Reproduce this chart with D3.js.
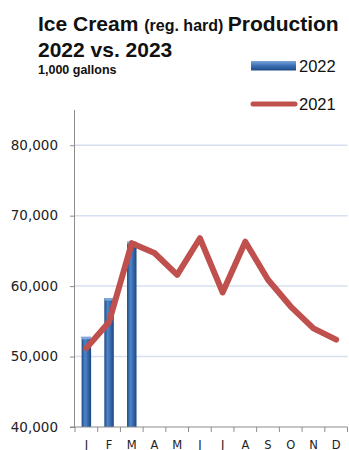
<!DOCTYPE html>
<html><head><meta charset="utf-8">
<script src="https://cdn.jsdelivr.net/npm/d3@7"></script>
<style>body{margin:0;background:#fff}svg{display:block}</style>
</head><body>
<script>
const months = ["J","F","M","A","M","J","J","A","S","O","N","D"];
const values2022 = [52800, 58300, 66300];
const values2021 = [51200, 54900, 66100, 64700, 61600, 66800, 59100, 66300, 60900, 57100, 54000, 52400];
const yTicks = [40000, 50000, 60000, 70000, 80000];

const W = 349, H = 450;
const svg = d3.select("body").append("svg").attr("width", W).attr("height", H);
const defs = svg.append("defs");
const g1 = defs.append("linearGradient").attr("id","barGrad").attr("x1","0").attr("x2","1").attr("y1","0").attr("y2","0");
[["0%","#1d4a86"],["35%","#4f86c8"],["55%","#3f74b8"],["100%","#1b4680"]].forEach(([o,c])=>g1.append("stop").attr("offset",o).attr("stop-color",c));
const g2 = defs.append("linearGradient").attr("id","legGrad").attr("x1","0").attr("x2","0").attr("y1","0").attr("y2","1");
[["0%","#7aa6da"],["45%","#3f74b8"],["100%","#1d4a86"]].forEach(([o,c])=>g2.append("stop").attr("offset",o).attr("stop-color",c));

const x0 = 75, x1 = 347.5, yTop = 110, yBot = 427;
const x = d3.scaleBand().domain(d3.range(12)).range([x0, x1]).padding(0);
const y = d3.scaleLinear().domain([40000, 85000]).range([yBot, yTop]);

// gridlines
svg.append("g").selectAll("line").data(yTicks.slice(1)).join("line")
  .attr("x1", x0).attr("x2", x1).attr("y1", d=>y(d)).attr("y2", d=>y(d))
  .attr("stroke", "#d6e0f0").attr("stroke-width", 1.5);

// y axis
const yAxis = svg.append("g").attr("transform", `translate(${x0},0)`)
  .call(d3.axisLeft(y).tickValues(yTicks).tickSize(5).tickPadding(12).tickFormat(d3.format(",")));
yAxis.select(".domain").attr("stroke","#8c8c8c").attr("d", `M-0.5,${yTop}V${yBot}`);
yAxis.selectAll(".tick line").attr("stroke","#8c8c8c");
yAxis.selectAll("text").attr("font-family","DejaVu Sans, Verdana, sans-serif").attr("font-size","13.5px").attr("fill","#222");

// bars
const bw = 9.5;
const bars = svg.append("g");
bars.selectAll("rect.bar").data(values2022).join("rect").attr("class","bar")
  .attr("x",(d,i)=>x(i)+x.bandwidth()/2-bw/2).attr("width",bw)
  .attr("y",d=>y(d)).attr("height",d=>yBot-y(d))
  .attr("fill","url(#barGrad)");
bars.selectAll("rect.cap").data(values2022).join("rect").attr("class","cap")
  .attr("x",(d,i)=>x(i)+x.bandwidth()/2-bw/2).attr("width",bw)
  .attr("y",d=>y(d)).attr("height",2.5)
  .attr("fill","#7fa9dc");

// x axis
const xAxis = svg.append("g").attr("transform",`translate(0,${yBot})`);
xAxis.append("line").attr("x1",x0-5).attr("x2",x1).attr("y1",0).attr("y2",0).attr("stroke","#8c8c8c");
xAxis.selectAll("line.tk").data(d3.range(13)).join("line").attr("class","tk")
  .attr("x1",i=>i<12?x(i):x1).attr("x2",i=>i<12?x(i):x1).attr("y1",0).attr("y2",5).attr("stroke","#8c8c8c");
xAxis.selectAll("text").data(months).join("text")
  .attr("x",(d,i)=>x(i)+x.bandwidth()/2).attr("y",21.5).attr("text-anchor","middle")
  .attr("font-family","DejaVu Sans, Verdana, sans-serif").attr("font-size","11.5px").attr("fill","#222").text(d=>d);

// line
svg.append("path").datum(values2021)
  .attr("d", d3.line().x((d,i)=>x(i)+x.bandwidth()/2).y(d=>y(d)))
  .attr("fill","none").attr("stroke","#c0504d").attr("stroke-width",6)
  .attr("stroke-linejoin","round").attr("stroke-linecap","round");

// title
const t = svg.append("text").attr("x",38).attr("y",31).attr("font-family","Liberation Sans, Arial, sans-serif").attr("font-weight","bold").attr("fill","#111");
t.append("tspan").attr("font-size","21px").text("Ice Cream ");
t.append("tspan").attr("font-size","16px").text("(reg. hard) ");
t.append("tspan").attr("font-size","21px").text("Production");
svg.append("text").attr("x",38).attr("y",56.5).attr("font-family","Liberation Sans, Arial, sans-serif").attr("font-weight","bold").attr("font-size","21px").attr("fill","#111").text("2022 vs. 2023");
svg.append("text").attr("x",38).attr("y",74).attr("font-family","Liberation Sans, Arial, sans-serif").attr("font-weight","bold").attr("font-size","12.5px").attr("fill","#111").text("1,000 gallons");

// legend
const leg = svg.append("g").attr("font-family","Liberation Sans, Arial, sans-serif").attr("font-size","16.5px").attr("fill","#111");
leg.append("rect").attr("x",251).attr("y",61).attr("width",45).attr("height",9.5).attr("fill","url(#legGrad)");
leg.append("text").attr("x",299).attr("y",71.5).text("2022");
leg.append("line").attr("x1",253).attr("x2",295).attr("y1",104).attr("y2",104).attr("stroke","#c0504d").attr("stroke-width",5).attr("stroke-linecap","round");
leg.append("text").attr("x",299).attr("y",110).text("2021");
</script>
</body></html>
